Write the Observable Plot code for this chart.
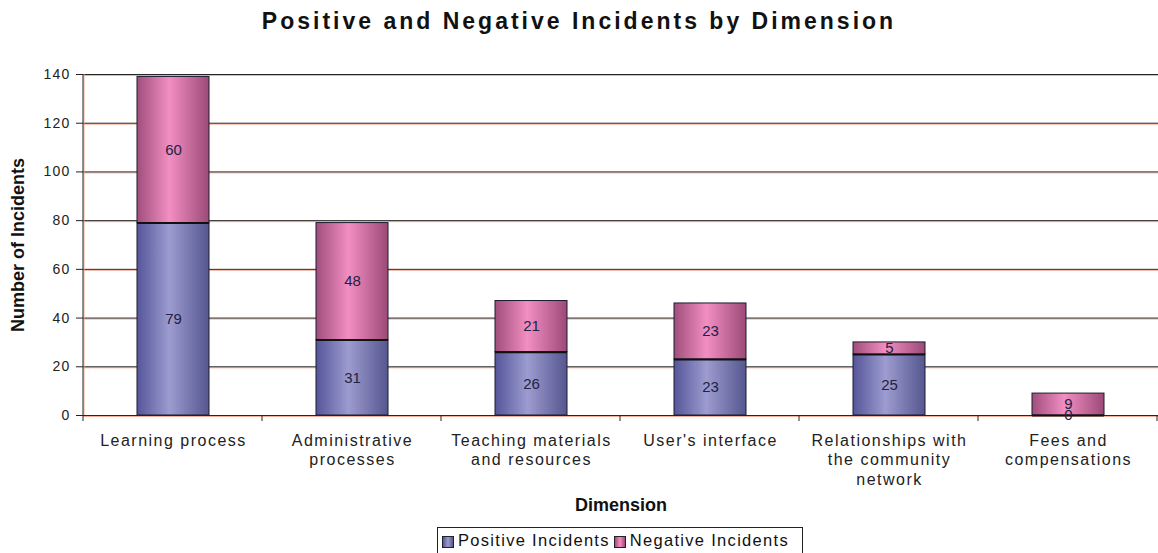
<!DOCTYPE html>
<html>
<head>
<meta charset="utf-8">
<script src="https://cdn.jsdelivr.net/npm/d3@7"></script>
<script src="https://cdn.jsdelivr.net/npm/@observablehq/plot@0.6"></script>
<style>
  html, body { margin: 0; padding: 0; background: #fff; }
  #wrap { position: relative; width: 1158px; height: 553px; overflow: hidden; font-family: "Liberation Sans", Arial, sans-serif; }
  #title { position: absolute; top: 8px; left: 0; width: 1158px; text-align: center; font-weight: bold; font-size: 23px; letter-spacing: 3px; color: #111; }
  #chart { position: absolute; top: 62px; left: 0; }
  #legend { position: absolute; left: 437px; top: 527px; width: 366px; height: 34px; box-sizing: border-box; border: 1px solid #222; display: flex; align-items: flex-start; padding: 3px 0 0 4px; font-size: 16.5px; letter-spacing: 1.3px; color: #111; white-space: nowrap; }
  #legend .sw { display: inline-block; width: 10px; height: 10px; border: 1px solid #222; margin: 5px 4px 0 0; }
  #legend .item { display: flex; align-items: flex-start; margin-right: 4px; }
  g[aria-label="x-axis tick label"] text { letter-spacing: 1.5px; }
  g[aria-label="y-axis tick label"] text { letter-spacing: 1.2px; }
  g[aria-label="values"] text { letter-spacing: 1px; }
  g[aria-label="xlabel"] text { letter-spacing: 2.6px; }
</style>
</head>
<body>
<div id="wrap">
  <div id="title">Positive and Negative Incidents by Dimension</div>
  <div id="chart"></div>
  <div id="legend"></div>
</div>
<script>
const categories = ["Learning process", "Administrative processes", "Teaching materials and resources", "User's interface", "Relationships with the community network", "Fees and compensations"];
const tickLabels = ["Learning process", "Administrative\nprocesses", "Teaching materials\nand resources", "User's interface", "Relationships with\nthe community\nnetwork", "Fees and\ncompensations"];
const seriesNames = ["Positive Incidents", "Negative Incidents"];
const positive = [79, 31, 26, 23, 25, 0];
const negative = [60, 48, 21, 23, 5, 9];
const yTicks = [0, 20, 40, 60, 80, 100, 120, 140];

const rows = [];
categories.forEach((c, i) => {
  rows.push({cat: c, series: seriesNames[0], value: positive[i]});
  rows.push({cat: c, series: seriesNames[1], value: negative[i]});
});
const positiveRows = rows.filter(d => d.series === seriesNames[0]);

const frameLines = (index, scales, values, dims) => {
  const {x, y} = scales;
  const step = x(categories[1]) - x(categories[0]);
  const g = d3.create("svg:g");
  const x0 = dims.marginLeft;
  const y0 = y(0), yTop = y(yTicks[yTicks.length - 1]);
  g.append("line").attr("x1", x0 + 1).attr("x2", x0 + 1).attr("y1", yTop).attr("y2", y0).attr("stroke", "#f4b09a");
  g.append("line").attr("x1", x0).attr("x2", x0).attr("y1", yTop).attr("y2", y0 + 6).attr("stroke", "#222");
  for (let k = 1; k <= categories.length; k++) {
    const bx = x0 + k * step;
    if (bx > dims.width) continue;
    g.append("line").attr("x1", bx).attr("x2", bx).attr("y1", y0).attr("y2", y0 + 6).attr("stroke", "#222");
  }
  return g.node();
};

const svg = Plot.plot({
  width: 1158,
  height: 453,
  marginTop: 12,
  marginLeft: 83,
  marginRight: 0,
  marginBottom: 100,
  style: {fontFamily: "'Liberation Sans', Arial, sans-serif", background: "white", color: "#222", overflow: "visible"},
  x: {domain: categories, paddingInner: 0.6, paddingOuter: 0.3, axis: null},
  y: {domain: [0, 140], axis: null},
  color: {domain: seriesNames, range: ["url(#gPos)", "url(#gNeg)"]},
  marks: [
    Plot.ruleY(yTicks, {stroke: "#f4b09a", strokeOpacity: 1, dy: 1}),
    Plot.ruleY(yTicks, {stroke: "#262626", strokeOpacity: 1}),
    Plot.barY(rows, {x: "cat", y: "value", fill: "series", stroke: "#1c1c30", strokeWidth: 1}),
    Plot.tickY(positiveRows, {x: "cat", y: "value", stroke: "#111", strokeWidth: 2}),
    Plot.text(rows, Plot.stackY({x: "cat", y: "value", text: d => String(d.value), fontSize: 15, fill: "#222244", ariaLabel: "values"})),
    frameLines,
    Plot.axisY({ticks: yTicks, tickSize: 7, tickPadding: 6, fontSize: 14, stroke: "#222", color: "#222", label: null}),
    Plot.axisX({tickSize: 0, tickPadding: 17, fontSize: 16, lineHeight: 1.2, color: "#222", tickFormat: d => tickLabels[categories.indexOf(d)], label: null}),
    Plot.text(["Dimension"], {frameAnchor: "bottom", dy: 95, fontSize: 18, fontWeight: "bold", fill: "#111", ariaLabel: "xlabel"}),
    Plot.text(["Number of Incidents"], {frameAnchor: "left", dx: -65, rotate: -90, textAnchor: "middle", fontSize: 18, fontWeight: "bold", fill: "#111", ariaLabel: "ylabel"})
  ]
});

const defs = d3.select(svg).insert("defs", ":first-child");
function grad(id, edgeL, mid, edgeR) {
  const lg = defs.append("linearGradient").attr("id", id).attr("x1", "0").attr("x2", "1").attr("y1", "0").attr("y2", "0");
  lg.append("stop").attr("offset", "0%").attr("stop-color", edgeL);
  lg.append("stop").attr("offset", "45%").attr("stop-color", mid);
  lg.append("stop").attr("offset", "100%").attr("stop-color", edgeR);
}
grad("gPos", "#55559a", "#9c9cd0", "#565690");
grad("gNeg", "#a04e7c", "#f28ec2", "#9c4a78");

document.getElementById("chart").appendChild(svg);

const legend = d3.select("#legend");
const swatchCss = [
  "linear-gradient(90deg, #55559a, #9c9cd0, #565690)",
  "linear-gradient(90deg, #a04e7c, #f28ec2, #9c4a78)"
];
seriesNames.forEach((s, i) => {
  const it = legend.append("div").attr("class", "item");
  it.append("span").attr("class", "sw").style("background", swatchCss[i]);
  it.append("span").text(s);
});
</script>
</body>
</html>
